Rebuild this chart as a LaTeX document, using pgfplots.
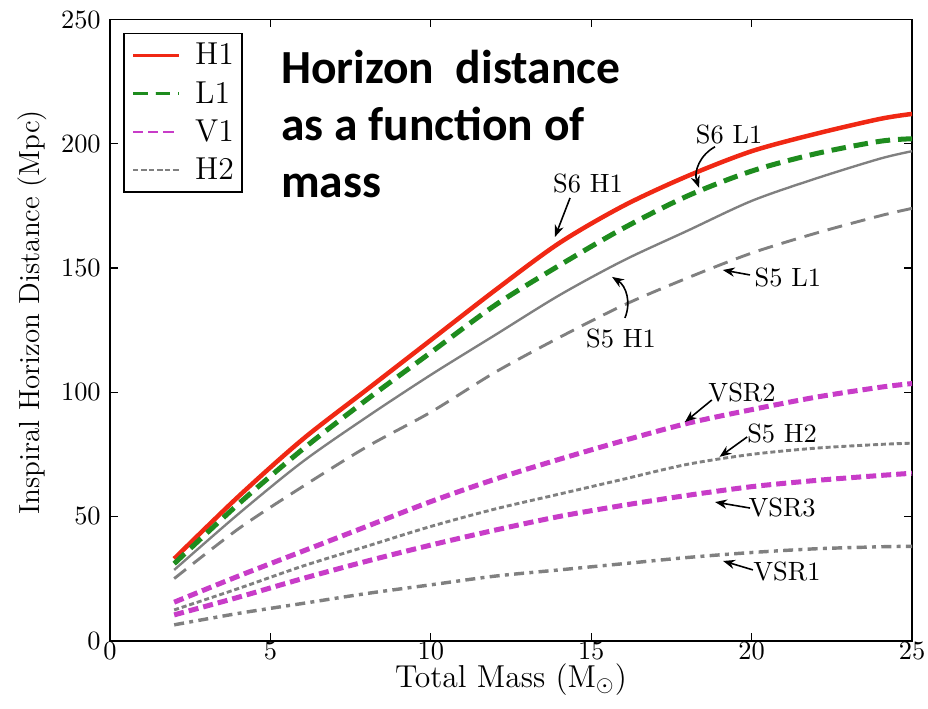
\documentclass[border=0pt]{standalone}
\usepackage{fontspec}
\usepackage{pgfplots}
\pgfplotsset{compat=1.18}
\usetikzlibrary{arrows.meta}
\newfontfamily\carlito{Carlito}
\definecolor{h1red}{RGB}{240,40,20}
\definecolor{l1green}{RGB}{30,140,30}
\definecolor{vmag}{RGB}{200,60,200}
\definecolor{lgray}{RGB}{128,128,128}
\begin{document}
\begin{tikzpicture}
\begin{axis}[
  scale only axis,
  width=303.79pt, height=235.3pt,
  xmin=0, xmax=25, ymin=0, ymax=250,
  xtick={0,5,10,15,20,25},
  ytick={0,50,100,150,200,250},
  major tick length=3pt,
  axis line style={line width=0.6pt},
  tick style={line width=0.5pt, black},
  xticklabel style={inner sep=0.5pt},
  every axis x label/.style={at={(axis description cs:0.5,-0.0745)}, anchor=base, inner sep=0pt, font=\fontsize{12}{14}\selectfont},
  every axis y label/.style={at={(axis description cs:-0.0873,0.529)}, anchor=base, rotate=90, inner sep=0pt, font=\fontsize{11}{13}\selectfont},
  xlabel={Total Mass ($\mathrm{M}_\odot$)},
  ylabel={Inspiral Horizon Distance (Mpc)},
  legend style={at={(0.0165,0.979)}, anchor=north west, draw=black, line width=0.6pt,
    font=\fontsize{12}{14}\selectfont, inner xsep=3pt, inner ysep=1.1pt, row sep=0pt, column sep=6pt,
    nodes={inner sep=0pt, text height=10.8pt, text depth=3.7pt}},
  legend cell align=left,
  legend image post style={line width=0.9pt},
]
\coordinate (SW) at (rel axis cs:0,0);
% S6 H1
\addplot[h1red, line width=1.7pt, smooth] coordinates {
 (2,33) (4,58) (6,81) (8,101) (10,121) (12,141) (14,160) (16,175) (18,187) (20,197) (22,204) (24,210) (25,212)};
\addlegendentry{H1}
% S6 L1
\addplot[l1green, line width=1.9pt, dash pattern=on 5.5pt off 3pt, smooth] coordinates {
 (2,31) (4,55) (6,77) (8,97) (10,116) (12,135) (14,151) (16,166) (18,179) (20,189) (22,196) (24,201) (25,202)};
\addlegendentry{L1}
% VSR2
\addplot[vmag, line width=1.9pt, dash pattern=on 3.8pt off 1.9pt, smooth] coordinates {
 (2,15.5) (4,26) (6,36) (8,46) (10,56) (12,65) (14,73) (16,80.5) (18,87.5) (20,93) (22,98) (24,102) (25,103.5)};
\addlegendentry{V1}
% S5 H2
\addplot[lgray, line width=1.1pt, dash pattern=on 1.9pt off 1.1pt, smooth] coordinates {
 (2,12.4) (4,21) (6,30) (8,38) (10,46) (12,53) (14,59) (16,65) (18,71) (20,75) (22,77.5) (24,79) (25,79.5)};
\addlegendentry{H2}
% S5 H1
\addplot[lgray, line width=0.9pt, smooth, forget plot] coordinates {
 (2,28.5) (4,51) (6,72) (8,90) (10,107) (12,123) (14,139) (16,153) (18,165) (20,177) (22,186) (24,194) (25,197)};
% S5 L1
\addplot[lgray, line width=1.1pt, dash pattern=on 5.7pt off 3.4pt, smooth, forget plot] coordinates {
 (2,25) (4,45) (6,62) (8,78) (10,92) (12,108) (14,122) (16,135) (18,146) (20,156) (22,164) (24,171) (25,174)};
% VSR3
\addplot[vmag, line width=1.9pt, dash pattern=on 3.8pt off 1.9pt, smooth, forget plot] coordinates {
 (2,10.4) (4,17.5) (6,25) (8,32) (10,38.5) (12,44.5) (14,50) (16,54.5) (18,58.5) (20,62) (22,64.5) (24,66.5) (25,67.4)};
% VSR1
\addplot[lgray, line width=1.3pt, dash pattern=on 3.8pt off 2pt on 1.5pt off 2pt, smooth, forget plot] coordinates {
 (2,6.4) (4,11) (6,15) (8,19) (10,22.5) (12,26) (14,28.5) (16,31) (18,33.5) (20,35.5) (22,37) (24,37.8) (25,38)};

% title text
\node[anchor=base west, inner sep=0pt, font=\carlito\bfseries\fontsize{18}{21}\selectfont] at (axis cs:5.32,224.1) {Horizon\ \ distance};
\node[anchor=base west, inner sep=0pt, font=\carlito\bfseries\fontsize{18}{21}\selectfont] at (axis cs:5.32,201.2) {as a function of};
\node[anchor=base west, inner sep=0pt, font=\carlito\bfseries\fontsize{18}{21}\selectfont] at (axis cs:5.32,178.2) {mass};

% annotations
\tikzset{ann/.style={anchor=base, inner sep=0pt, font=\fontsize{10}{12}\selectfont},
         arr/.style={-{Stealth[length=4.5pt,width=3.5pt]}, line width=0.6pt, black}}
\node[ann] at (axis cs:14.9,180.2) {S6 H1};
\draw[arr] (axis cs:14.34,178.2) -- (axis cs:13.87,162.5);
\node[ann] at (axis cs:19.3,200.3) {S6 L1};
\draw[arr] (axis cs:18.86,198.8) to[bend right=40] (axis cs:18.36,182.3);
\node[ann] at (axis cs:15.93,118.2) {S5 H1};
\draw[arr] (axis cs:16.05,129.9) to[bend right=40] (axis cs:15.65,146.4);
\node[ann] at (axis cs:21.13,142.4) {S5 L1};
\draw[arr] (axis cs:19.95,147.2) -- (axis cs:19.1,149.2);
\node[ann] at (axis cs:19.7,96.1) {VSR2};
\draw[arr] (axis cs:18.76,96.9) -- (axis cs:17.92,88.0);
\node[ann] at (axis cs:20.95,79.6) {S5 H2};
\draw[arr] (axis cs:19.86,82.0) -- (axis cs:19.0,74.0);
\node[ann] at (axis cs:20.95,49.8) {VSR3};
\draw[arr] (axis cs:19.95,53.4) -- (axis cs:18.86,55.8);
\node[ann] at (axis cs:21.1,24.4) {VSR1};
\draw[arr] (axis cs:20.04,28.5) -- (axis cs:19.11,32.1);
\end{axis}
\pgfresetboundingbox
\path[use as bounding box] ([xshift=-41.67pt,yshift=-25.49pt]SW) rectangle ++(351.5pt,268.18pt);
\end{tikzpicture}
\end{document}
